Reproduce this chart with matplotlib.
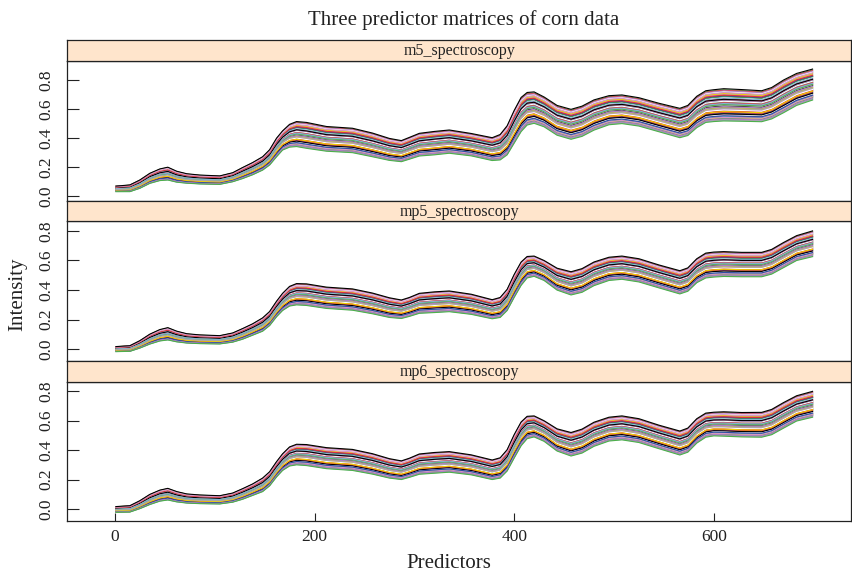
import matplotlib
matplotlib.use("Agg")
import matplotlib.pyplot as plt

plt.rcParams['font.family'] = ['Liberation Serif', 'DejaVu Serif']

predictors = [1, 15, 25, 35, 45, 53, 62, 72, 85, 105, 118, 128, 138, 148, 155,
              162, 168, 175, 182, 192, 212, 238, 258, 275, 287, 295, 305, 320,
              335, 357, 378, 386, 393, 400, 407, 413, 420, 430, 443, 457, 468,
              480, 495, 508, 525, 545, 566, 574, 583, 592, 600, 610, 628, 648,
              658, 670, 683, 699]

# upper and lower envelope of the 80 spectra, per panel
m5_top = [0.070, 0.078, 0.112, 0.158, 0.188, 0.200, 0.172, 0.155, 0.146, 0.140,
          0.162, 0.198, 0.232, 0.272, 0.320, 0.400, 0.450, 0.495, 0.514, 0.508,
          0.480, 0.468, 0.435, 0.398, 0.383, 0.405, 0.433, 0.446, 0.456, 0.432,
          0.403, 0.425, 0.485, 0.590, 0.680, 0.714, 0.718, 0.683, 0.625, 0.598,
          0.620, 0.663, 0.692, 0.697, 0.678, 0.640, 0.605, 0.625, 0.688, 0.726,
          0.733, 0.740, 0.734, 0.726, 0.748, 0.800, 0.845, 0.875]
m5_bot = [0.032, 0.032, 0.055, 0.089, 0.108, 0.112, 0.097, 0.090, 0.085, 0.082,
          0.100, 0.122, 0.148, 0.180, 0.215, 0.272, 0.318, 0.338, 0.342, 0.330,
          0.310, 0.300, 0.272, 0.247, 0.238, 0.255, 0.277, 0.285, 0.296, 0.278,
          0.246, 0.250, 0.285, 0.365, 0.445, 0.490, 0.502, 0.478, 0.420, 0.392,
          0.412, 0.455, 0.492, 0.500, 0.483, 0.444, 0.403, 0.418, 0.472, 0.508,
          0.514, 0.518, 0.516, 0.513, 0.532, 0.575, 0.625, 0.662]
mp5_top = [0.018, 0.024, 0.058, 0.102, 0.133, 0.146, 0.122, 0.105, 0.097, 0.092,
           0.110, 0.140, 0.172, 0.212, 0.255, 0.325, 0.378, 0.425, 0.444, 0.442,
           0.420, 0.408, 0.380, 0.348, 0.333, 0.350, 0.378, 0.388, 0.394, 0.372,
           0.335, 0.350, 0.405, 0.505, 0.590, 0.627, 0.630, 0.600, 0.548, 0.524,
           0.545, 0.590, 0.622, 0.630, 0.612, 0.570, 0.531, 0.550, 0.612, 0.650,
           0.657, 0.660, 0.655, 0.655, 0.675, 0.722, 0.768, 0.800]
mp5_bot = [-0.016, -0.014, 0.008, 0.035, 0.056, 0.063, 0.050, 0.042, 0.038, 0.036,
           0.048, 0.068, 0.095, 0.122, 0.160, 0.220, 0.262, 0.292, 0.300, 0.296,
           0.276, 0.264, 0.240, 0.215, 0.208, 0.222, 0.243, 0.248, 0.254, 0.236,
           0.206, 0.215, 0.262, 0.350, 0.432, 0.482, 0.493, 0.465, 0.400, 0.367,
           0.385, 0.430, 0.465, 0.473, 0.455, 0.415, 0.374, 0.392, 0.450, 0.482,
           0.488, 0.492, 0.490, 0.490, 0.508, 0.552, 0.600, 0.626]
mp6_top = [0.016, 0.022, 0.056, 0.099, 0.128, 0.140, 0.118, 0.102, 0.095, 0.090,
           0.108, 0.138, 0.170, 0.210, 0.253, 0.322, 0.375, 0.422, 0.440, 0.438,
           0.417, 0.405, 0.376, 0.342, 0.327, 0.345, 0.374, 0.384, 0.390, 0.368,
           0.333, 0.348, 0.403, 0.505, 0.592, 0.630, 0.633, 0.600, 0.545, 0.520,
           0.543, 0.590, 0.624, 0.633, 0.614, 0.570, 0.530, 0.550, 0.614, 0.652,
           0.658, 0.661, 0.656, 0.657, 0.677, 0.724, 0.770, 0.800]
mp6_bot = [-0.023, -0.021, 0.002, 0.030, 0.053, 0.061, 0.048, 0.040, 0.036, 0.034,
           0.046, 0.066, 0.092, 0.118, 0.157, 0.218, 0.262, 0.292, 0.300, 0.295,
           0.274, 0.262, 0.237, 0.210, 0.200, 0.215, 0.236, 0.243, 0.250, 0.232,
           0.200, 0.210, 0.258, 0.346, 0.430, 0.478, 0.490, 0.460, 0.394, 0.360,
           0.380, 0.426, 0.462, 0.470, 0.452, 0.410, 0.367, 0.386, 0.448, 0.488,
           0.497, 0.495, 0.490, 0.488, 0.505, 0.550, 0.598, 0.624]

# where each of the 80 samples sits between the lower and upper envelope
sample_pos = [1.00, 0.00, 0.87, 0.35, 0.62, 0.48, 0.22, 0.15, 0.74, 0.55,
              0.30, 0.97, 0.05, 0.52, 0.18, 0.66, 0.79, 0.43, 0.12, 0.70,
              0.58, 0.25, 0.45, 0.08, 0.83, 0.38, 0.64, 0.95, 0.33, 0.20,
              0.13, 0.60, 0.72, 0.89, 0.28, 0.02, 0.50, 0.31, 0.57, 0.82,
              0.77, 0.41, 0.19, 0.63, 0.53, 0.86, 0.10, 0.68, 0.92, 0.37,
              0.47, 0.76, 0.61, 0.24, 0.93, 0.14, 0.40, 0.56, 0.03, 0.65,
              0.22, 0.07, 0.34, 0.78, 0.44, 0.71, 0.85, 0.27, 0.49, 0.11,
              0.67, 0.51, 0.90, 0.16, 0.06, 0.54, 0.29, 0.80, 0.39, 0.88]

line_cols = ['black', '#4DAF4A', 'white', '#2F4FA0', '#B07CC6',
             '#7FB3D5', '#F0D000', '#E0303A', '#A8A8A8', '#D895C8']

panel_names = ['m5_spectroscopy', 'mp5_spectroscopy', 'mp6_spectroscopy']
y_ticks = [0.0, 0.2, 0.4, 0.6, 0.8]
x_ticks = [0, 200, 400, 600]

W, H = 853, 571


def box(x0, y0, x1, y1):
    return [x0 / W, 1 - y1 / H, (x1 - x0) / W, (y1 - y0) / H]


fig = plt.figure(figsize=(W / 100, H / 100), dpi=100)

# (strip top, panel top, panel bottom, ylim)
layout = [(39.5, 60.5, 200.5, (-0.029, 0.934)),
          (200.5, 221.0, 360.5, (-0.076, 0.867)),
          (360.5, 381.5, 521.0, (-0.082, 0.867))]
envelopes = [(m5_bot, m5_top), (mp5_bot, mp5_top), (mp6_bot, mp6_top)]
edge = '#222222'

for k, (name, (s0, p0, p1, ylim), (bot, top)) in enumerate(zip(panel_names, layout, envelopes)):
    ax = fig.add_axes(box(67, p0, 851.5, p1))
    for i, f in enumerate(sample_pos):
        ys = [b + f * (t - b) for b, t in zip(bot, top)]
        # the outermost spectra stay visible on top of the band
        z = 3 if f in (0.0, 1.0) else 2
        ax.plot(predictors, ys, color=line_cols[i % len(line_cols)], lw=0.8,
                solid_joinstyle='round', zorder=z)
    ax.set_xlim(-48, 738)
    ax.set_ylim(*ylim)
    ax.set_yticks(y_ticks)
    ax.set_yticklabels([f"{v:.1f}" for v in y_ticks], rotation=90, va='center')
    ax.tick_params(axis='y', direction='in', length=8.6, width=0.8, pad=9,
                   labelsize=12.5, colors=edge, labelcolor='#222222')
    if k == 2:
        ax.set_xticks(x_ticks)
        ax.tick_params(axis='x', direction='in', length=5.8, width=0.8, pad=6,
                       labelsize=12.5, colors=edge, labelcolor='#222222')
    else:
        ax.set_xticks([])
    for sp in ax.spines.values():
        sp.set_color(edge)
        sp.set_linewidth(0.9)

    st = fig.add_axes(box(67, s0, 851.5, p0))
    st.set_facecolor('#FFE5CC')
    st.set_xticks([])
    st.set_yticks([])
    for sp in st.spines.values():
        sp.set_color(edge)
        sp.set_linewidth(0.9)
    st.text(0.5, 0.45, name, ha='center', va='center', fontsize=11.5,
            color='#222222', transform=st.transAxes)

fig.text(464 / W, 1 - 20 / H, 'Three predictor matrices of corn data',
         ha='center', va='center', fontsize=15, color='#222222')
fig.text(449 / W, 1 - 563 / H, 'Predictors', ha='center', va='center',
         fontsize=15, color='#222222')
fig.text(18 / W, 1 - 294 / H, 'Intensity', ha='center', va='center',
         rotation=90, fontsize=15, color='#222222')

fig.savefig('out.png', dpi=100)
